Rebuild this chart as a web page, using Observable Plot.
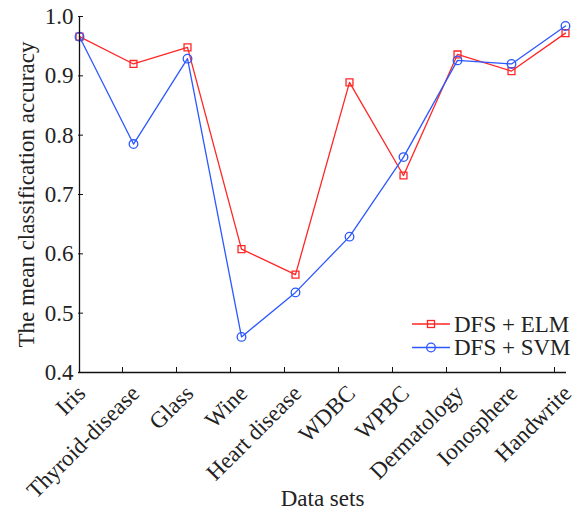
<!DOCTYPE html>
<html>
<head>
<meta charset="utf-8">
<script src="https://cdn.jsdelivr.net/npm/d3@7"></script>
<script src="https://cdn.jsdelivr.net/npm/@observablehq/plot@0.6"></script>
<style>
  html, body { margin: 0; padding: 0; background: #fff; }
  svg text { font-family: "Liberation Serif", "DejaVu Serif", serif; }
</style>
</head>
<body>
<div id="chart"></div>
<script>
const categories = ["Iris", "Thyroid-disease", "Glass", "Wine", "Heart disease", "WDBC", "WPBC", "Dermatology", "Ionosphere", "Handwrite"];
const elmValues = [0.966, 0.920, 0.948, 0.608, 0.565, 0.889, 0.732, 0.936, 0.908, 0.972];
const svmValues = [0.966, 0.785, 0.929, 0.460, 0.535, 0.629, 0.763, 0.926, 0.920, 0.984];
const yTicks = [0.4, 0.5, 0.6, 0.7, 0.8, 0.9, 1.0];
const seriesNames = ["DFS + ELM", "DFS + SVM"];
const xLabel = "Data sets";
const yLabel = "The mean classification accuracy";

const red = "#ff2626";
const blue = "#2b58ff";
const font = "Liberation Serif";
const fs = 23;

const elm = categories.map((c, i) => ({cat: c, v: elmValues[i]}));
const svm = categories.map((c, i) => ({cat: c, v: svmValues[i]}));

const W = 582, H = 515, mL = 78, mR = 16, mT = 16, mB = 143;
const frameW = W - mL - mR, frameH = H - mT - mB;

const txt = {fill: "#222", fontSize: fs, fontFamily: font};

const svg = Plot.plot({
  width: W, height: H,
  marginLeft: mL, marginRight: mR, marginTop: mT, marginBottom: mB,
  style: {fontFamily: font, fontSize: fs + "px", color: "#222", background: "#fff"},
  x: {type: "point", domain: categories, padding: 0, axis: null},
  y: {domain: [0.4, 1.0], axis: null},
  marks: [
    Plot.line(elm, {x: "cat", y: "v", stroke: red, strokeWidth: 1.3}),
    Plot.dot(elm, {x: "cat", y: "v", symbol: "square", r: 3.9, stroke: red, strokeWidth: 1.3, fill: "none"}),
    Plot.line(svm, {x: "cat", y: "v", stroke: blue, strokeWidth: 1.3}),
    Plot.dot(svm, {x: "cat", y: "v", symbol: "circle", r: 4.3, stroke: blue, strokeWidth: 1.3, fill: "none"}),
    // axis lines
    Plot.ruleY([0.4], {stroke: "#111", strokeWidth: 1.3}),
    Plot.ruleX([categories[0]], {stroke: "#111", strokeWidth: 1.3}),
    // inward ticks
    Plot.tickX(categories.slice(1), {x: d => d, dx: -11, insetTop: frameH - 5, stroke: "#111", strokeWidth: 1}),
    Plot.tickY(yTicks.slice(1), {y: d => d, insetRight: frameW - 5, stroke: "#111", strokeWidth: 1}),
    // y tick labels
    Plot.text(yTicks, {y: d => d, text: d => d.toFixed(1), frameAnchor: "left", dx: -5, textAnchor: "end", lineAnchor: "middle", ...txt}),
    // x tick labels
    Plot.text(categories, {x: d => d, text: d => d, frameAnchor: "bottom", dx: 2, dy: 17, rotate: -45, textAnchor: "end", lineAnchor: "middle", ...txt}),
    // axis titles
    Plot.text([xLabel], {text: d => d, frameAnchor: "bottom", dy: 126, textAnchor: "middle", lineAnchor: "middle", ...txt}),
    Plot.text([yLabel], {text: d => d, frameAnchor: "left", dx: -52, rotate: -90, textAnchor: "middle", lineAnchor: "middle", ...txt})
  ]
});

// legend
const g = d3.select(svg).append("g").attr("font-family", font).attr("font-size", fs).attr("text-anchor", "start");
const legendItems = [
  {name: seriesNames[0], color: red, shape: "square"},
  {name: seriesNames[1], color: blue, shape: "circle"}
];
legendItems.forEach((it, i) => {
  const cy = 324 + i * 23.5;
  g.append("line").attr("x1", 412).attr("x2", 450).attr("y1", cy).attr("y2", cy)
    .attr("stroke", it.color).attr("stroke-width", 1.3);
  if (it.shape === "square") {
    g.append("rect").attr("x", 431 - 3.5).attr("y", cy - 3.5).attr("width", 7).attr("height", 7)
      .attr("fill", "none").attr("stroke", it.color).attr("stroke-width", 1.3);
  } else {
    g.append("circle").attr("cx", 431).attr("cy", cy).attr("r", 4.3)
      .attr("fill", "none").attr("stroke", it.color).attr("stroke-width", 1.3);
  }
  g.append("text").attr("x", 454).attr("y", cy + 7.5).attr("fill", "#222").attr("text-anchor", "start").text(it.name);
});

document.getElementById("chart").appendChild(svg);
</script>
</body>
</html>
